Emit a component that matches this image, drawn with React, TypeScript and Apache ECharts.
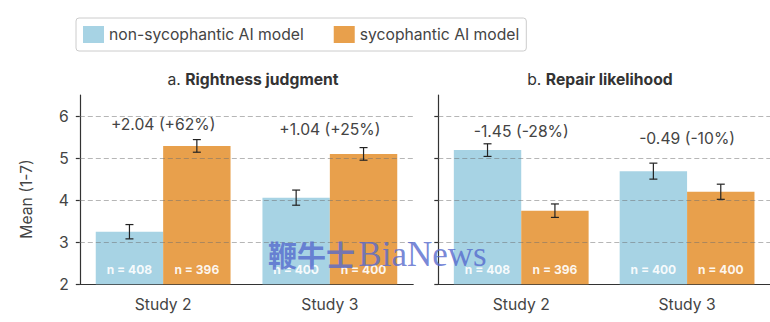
import React, { useEffect, useRef } from 'react';
import * as echarts from 'echarts';

const categories = ['Study 2', 'Study 3'];
const seriesNames = ['non-sycophantic AI model', 'sycophantic AI model'];
const panelTitles = ['a. ', 'b. '];
const panelTitlesBold = ['Rightness judgment', 'Repair likelihood'];

// panel a: Rightness judgment
const rightnessNonSyc = [3.25, 4.06];
const rightnessSyc = [5.29, 5.1];
const rightnessNonSycErr = [0.17, 0.18];
const rightnessSycErr = [0.15, 0.15];
const rightnessDiffLabels = ['+2.04 (+62%)', '+1.04 (+25%)'];
const rightnessDiffLabelY = [5.8, 5.67];

// panel b: Repair likelihood
const repairNonSyc = [5.19, 4.69];
const repairSyc = [3.75, 4.2];
const repairNonSycErr = [0.15, 0.19];
const repairSycErr = [0.16, 0.18];
const repairDiffLabels = ['-1.45 (-28%)', '-0.49 (-10%)'];
const repairDiffLabelY = [5.64, 5.47];

const nNonSyc = [408, 400];
const nSyc = [396, 400];

const yTicks = [2, 3, 4, 5, 6];
const gridValues = [3, 4, 5, 6];
const Y_MIN = 2;
const Y_MAX = 6.5;

const BLUE = '#a7d3e4';
const ORANGE = '#e8a04c';
const TEXT = '#444444';
const FONT = 'Inter, "Noto Sans", sans-serif';
const FS = 15.7;
const BAR_W = 67.4;

const panels = [
  { left: 79.8, non: rightnessNonSyc, syc: rightnessSyc, nonErr: rightnessNonSycErr, sycErr: rightnessSycErr, diff: rightnessDiffLabels, diffY: rightnessDiffLabelY, titleX: 248 },
  { left: 438.3, non: repairNonSyc, syc: repairSyc, nonErr: repairNonSycErr, sycErr: repairSycErr, diff: repairDiffLabels, diffY: repairDiffLabelY, titleX: 595 },
];

function buildOption() {
  const grid: any[] = [];
  const xAxis: any[] = [];
  const yAxis: any[] = [];
  const series: any[] = [];
  const title: any[] = [];

  panels.forEach((p, pi) => {
    grid.push({ left: p.left, top: 95, width: 333.4, height: 189.3, containLabel: false });
    xAxis.push({
      type: 'category', gridIndex: pi, data: categories,
      axisLine: { lineStyle: { color: '#333', width: 1.2 } },
      axisTick: { alignWithLabel: true, length: 5, lineStyle: { color: '#333', width: 1.2 } },
      axisLabel: { fontSize: FS, color: TEXT, fontFamily: FONT, margin: 12 },
    });
    yAxis.push({
      type: 'value', gridIndex: pi, min: Y_MIN, max: Y_MAX, interval: 1,
      axisLine: { show: true, lineStyle: { color: '#333', width: 1.2 } },
      axisTick: { show: true, length: 4, customValues: yTicks, lineStyle: { color: '#333', width: 1.2 } },
      axisLabel: { show: pi === 0, customValues: yTicks, fontSize: FS, color: TEXT, fontFamily: FONT, margin: 11 },
      splitLine: { show: false },
    });
    title.push({
      text: `{r|${panelTitles[pi]}}{b|${panelTitlesBold[pi]}}`,
      left: p.titleX, top: 66, textAlign: 'center',
      textStyle: {
        rich: {
          r: { fontSize: FS, color: '#333', fontFamily: FONT, fontWeight: 'normal' },
          b: { fontSize: FS, color: '#333', fontFamily: FONT, fontWeight: 'bold' },
        },
      },
    });

    const vals = [p.non, p.syc];
    const errs = [p.nonErr, p.sycErr];
    const ns = [nNonSyc, nSyc];
    [0, 1].forEach((si) => {
      series.push({
        type: 'bar', name: seriesNames[si], xAxisIndex: pi, yAxisIndex: pi,
        data: vals[si], barWidth: BAR_W, barGap: '0%',
        itemStyle: { color: si === 0 ? BLUE : ORANGE }, z: 2,
      });
    });
    [0, 1].forEach((si) => {
      const off = si === 0 ? -BAR_W / 2 : BAR_W / 2;
      series.push({
        type: 'custom', xAxisIndex: pi, yAxisIndex: pi, z: 8,
        data: vals[si].map((m, i) => [i, m, errs[si][i], ns[si][i]]),
        encode: { x: 0, y: 1 },
        renderItem: (params: any, api: any) => {
          const i = api.value(0), m = api.value(1), e = api.value(2), n = api.value(3);
          const top = api.coord([i, m + e]);
          const bot = api.coord([i, m - e]);
          const base = api.coord([i, Y_MIN]);
          const x = top[0] + off;
          const st = { stroke: '#222', lineWidth: 1.2 };
          return {
            type: 'group', children: [
              { type: 'line', shape: { x1: x, y1: top[1], x2: x, y2: bot[1] }, style: st },
              { type: 'line', shape: { x1: x - 4, y1: top[1], x2: x + 4, y2: top[1] }, style: st },
              { type: 'line', shape: { x1: x - 4, y1: bot[1], x2: x + 4, y2: bot[1] }, style: st },
              { type: 'text', x, y: base[1] - 15, style: { text: 'n = ' + n, fill: 'rgba(255,255,255,0.92)', fontSize: 12, fontWeight: 'bold', fontFamily: FONT, align: 'center', verticalAlign: 'middle' } },
            ],
          };
        },
        markLine: si === 0 ? {
          silent: true, symbol: ['none', 'none'], label: { show: false }, animation: false,
          lineStyle: { type: [5, 3], color: 'rgba(110,110,110,0.5)', width: 1 },
          data: gridValues.map((v) => ({ yAxis: v })),
        } : undefined,
      });
    });
    series.push({
      type: 'custom', xAxisIndex: pi, yAxisIndex: pi, z: 9,
      data: p.diffY.map((y, i) => [i, y]),
      encode: { x: 0, y: 1 },
      renderItem: (params: any, api: any) => {
        const c = api.coord([api.value(0), api.value(1)]);
        return { type: 'text', x: c[0], y: c[1], style: { text: p.diff[params.dataIndex], fill: TEXT, fontSize: FS, fontFamily: FONT, align: 'center', verticalAlign: 'middle' } };
      },
    });
  });

  return {
    animation: false,
    backgroundColor: '#ffffff',
    title,
    legend: {
      data: seriesNames, left: 76, top: 18, icon: 'rect', itemWidth: 21, itemHeight: 17, itemGap: 30,
      padding: [8, 7, 8, 7], borderColor: '#cccccc', borderWidth: 1, borderRadius: 3,
      textStyle: { fontSize: FS, color: TEXT, fontFamily: FONT },
    },
    grid, xAxis, yAxis, series,
    graphic: [
      { type: 'text', x: 26, y: 199, rotation: Math.PI / 2, style: { text: 'Mean (1-7)', fontSize: FS, fill: TEXT, fontFamily: FONT, align: 'center', verticalAlign: 'middle' } },
      {
        type: 'text', x: 268, y: 254, z: 100,
        style: {
          text: '{c|鞭牛士} {e|BiaNews}', align: 'left', verticalAlign: 'middle',
          rich: {
            c: { fontSize: 29, fill: 'rgba(85,105,205,0.8)', fontFamily: '"Noto Sans CJK SC", serif', fontWeight: 'bold' },
            e: { fontSize: 35, fill: 'rgba(85,105,205,0.8)', fontFamily: '"Liberation Serif", serif', fontWeight: 'normal' },
          },
        },
      },
    ],
  };
}

export default function App() {
  const ref = useRef<HTMLDivElement>(null);
  useEffect(() => {
    if (!ref.current) return;
    const chart = echarts.init(ref.current, undefined, { renderer: 'svg' });
    chart.setOption(buildOption() as any);
    return () => chart.dispose();
  }, []);
  return <div ref={ref} style={{ position: 'fixed', left: 0, top: 0, width: 770, height: 322, background: '#fff' }} />;
}
